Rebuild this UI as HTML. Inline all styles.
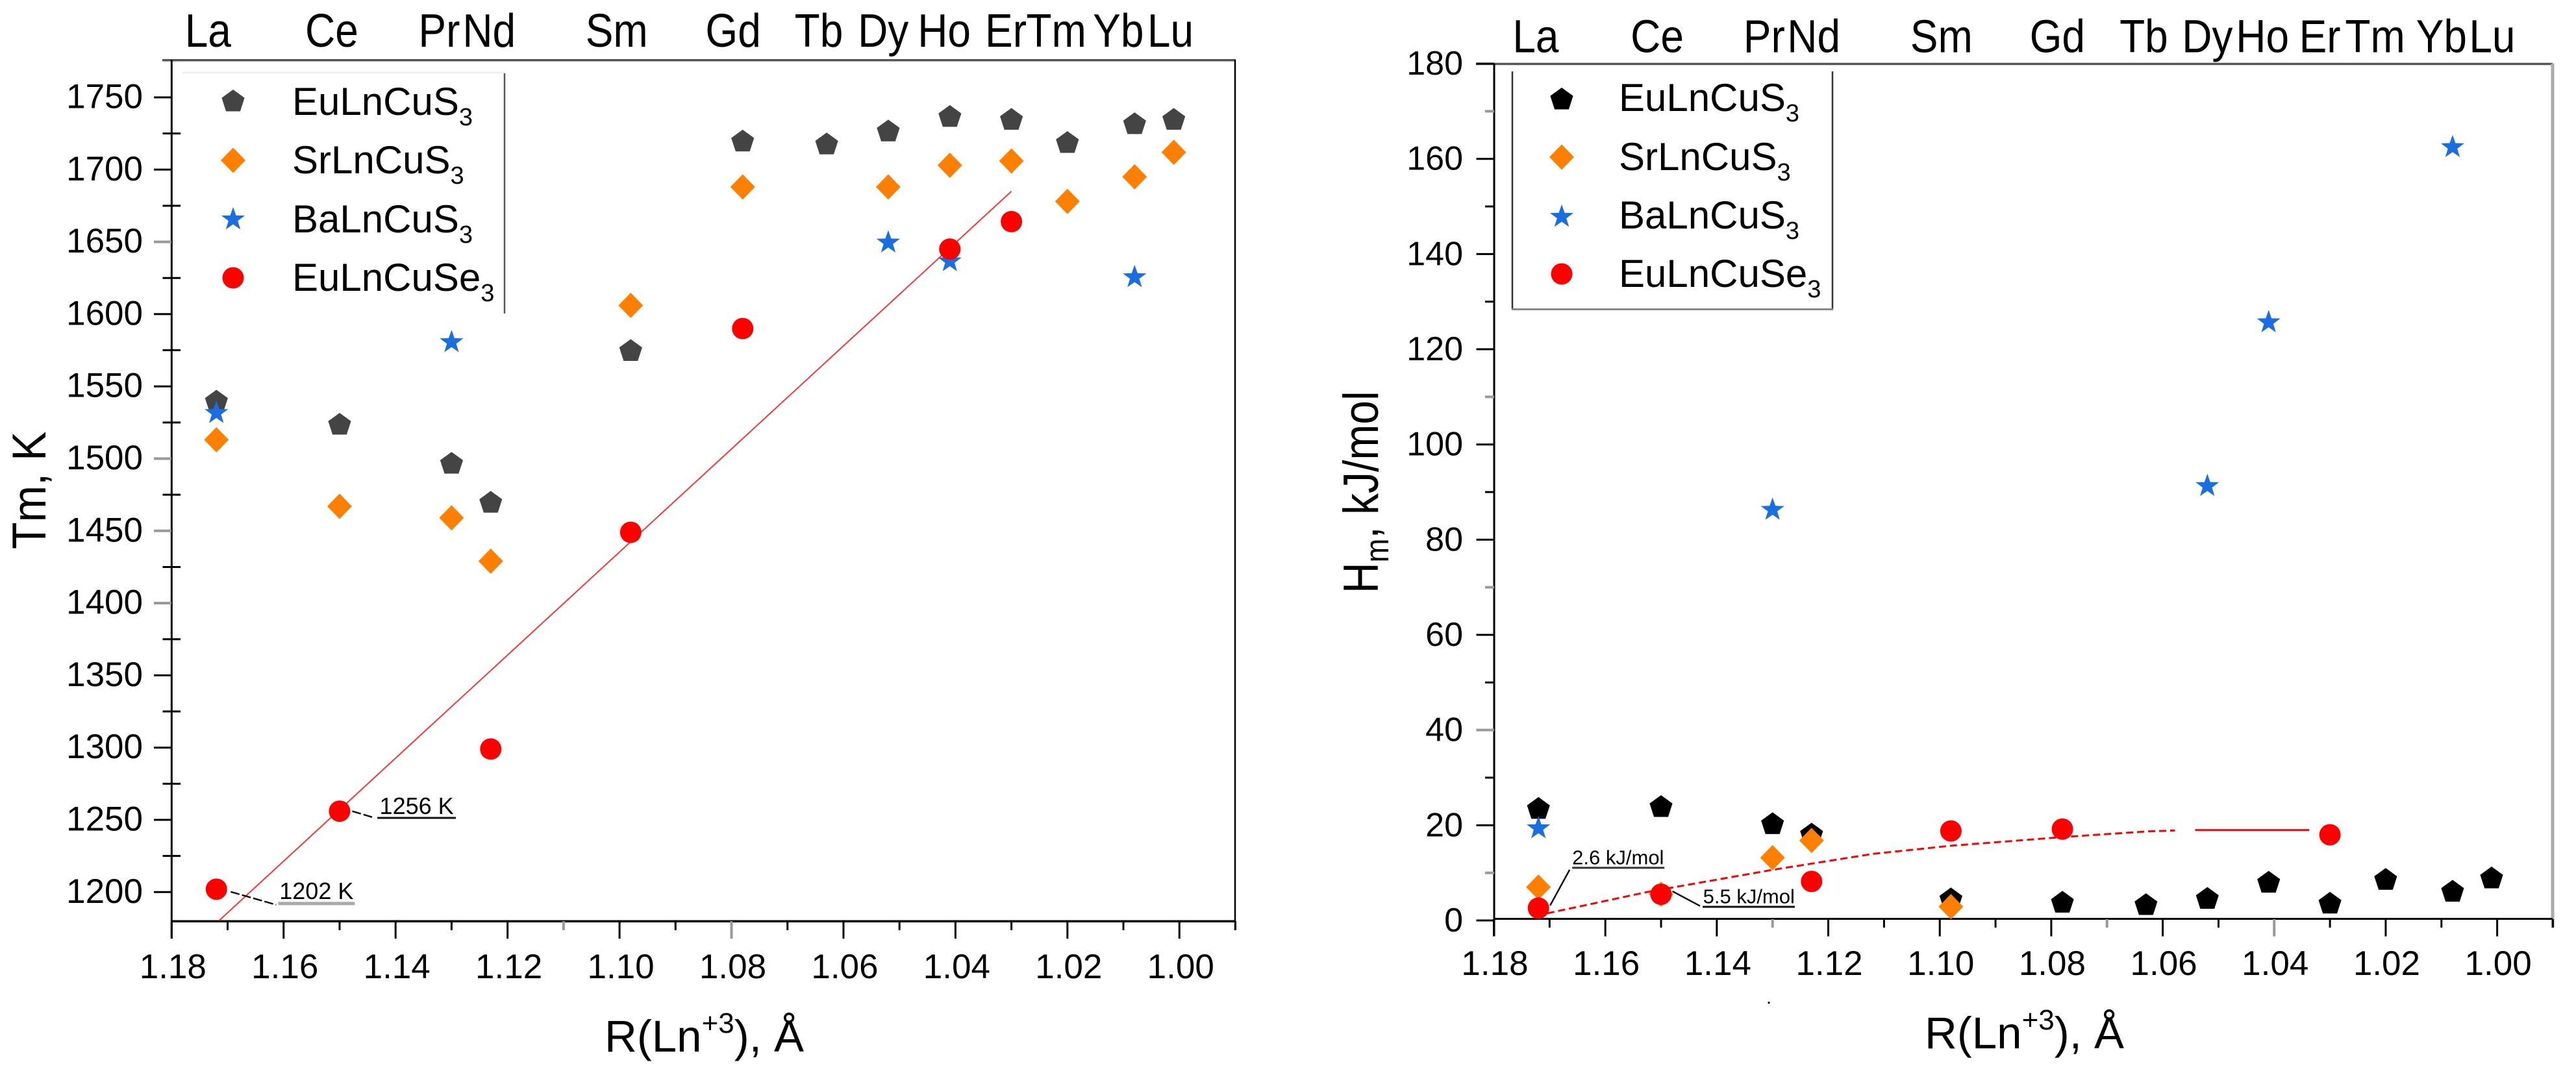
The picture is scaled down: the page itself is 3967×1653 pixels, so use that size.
<!DOCTYPE html>
<html lang="en">
<head>
<meta charset="utf-8">
<title>Melting temperature and enthalpy of LnCu chalcogenides</title>
<style>
html,body{margin:0;padding:0;background:#fff;}
svg{display:block;font-family:"Liberation Sans",sans-serif;}
</style>
</head>
<body>
<svg id="figure" xmlns="http://www.w3.org/2000/svg" width="3967" height="1653" viewBox="0 0 3967 1653">
<rect x="0" y="0" width="3967" height="1653" fill="#ffffff"/>
</svg>
<script>
// ---- shared categories ----
const lnNames = ['La','Ce','Pr','Nd','Sm','Gd','Tb','Dy','Ho','Er','Tm','Yb','Lu'];
const radii = [1.172,1.15,1.13,1.123,1.098,1.078,1.063,1.052,1.041,1.03,1.02,1.008,1.001];
const xTickValues = [1.18,1.16,1.14,1.12,1.10,1.08,1.06,1.04,1.02,1.00];
const xTickLabels = ['1.18','1.16','1.14','1.12','1.10','1.08','1.06','1.04','1.02','1.00'];
const xMinorValues = [1.17,1.15,1.13,1.11,1.09,1.07,1.05,1.03,1.01,0.99];
const legendBase = ['EuLnCuS','SrLnCuS','BaLnCuS','EuLnCuSe'];
const legendSub = ['3','3','3','3'];

// ---- left chart: Tm, K ----
const leftEu = [1540,1524,1497,1470,1575,1720,1718,1727,1737,1735,1719,1732,1735];
const leftSr = [1513,1467,1459,1429,1606,1688,null,1688,1703,1706,1678,1695,1712];
const leftBa = [1532,null,1581,null,null,null,null,1650,1637,null,null,1626,null];
const leftSe = [1202,1256,null,1299,1449,1590,null,null,1645,1664,null,null,null];
const leftFitR = [1.1716,1.03];
const leftFitT = [1180,1685];
const leftYTicks = [1200,1250,1300,1350,1400,1450,1500,1550,1600,1650,1700,1750];
const leftYMinor = [1225,1275,1325,1375,1425,1475,1525,1575,1625,1675,1725];
const leftLabelR = [1.1735,1.1514,1.1322,1.1233,1.1005,1.0797,1.0644,1.0529,1.042,1.031,1.022,1.0109,1.0016];
const leftFadedTicks = [1400,1450,1500,1650,1.11,1.08];

// ---- right chart: Hm, kJ/mol ----
const rightEu = [23.6,24,20.4,18.2,4.6,3.9,3.4,4.7,8.1,3.7,8.7,6.2,9];
const rightSr = [7,5.5,13.2,16.8,2.9,null,null,null,null,null,null,null,null];
const rightBa = [19.5,null,86.4,null,null,null,null,91.4,125.8,null,null,162.6,null];
const rightSe = [2.6,5.5,null,8.2,18.8,19.2,null,null,null,18,null,null,null];
const rightFitR = [1.1704,1.1524,1.1302,1.1119,1.098,1.0782,1.063,1.0578];
const rightFitH = [1.5,6.0,10.6,14.0,15.7,17.5,18.7,18.9];
const rightTailR = [1.0542,1.0337];
const rightTailH = [19.0,19.0];
const rightYTicks = [0,20,40,60,80,100,120,140,160,180];
const rightYMinor = [10,30,50,70,90,110,130,150,170];
const rightLabelR = [1.1725,1.1507,1.1315,1.1226,1.0997,1.0789,1.0634,1.052,1.0421,1.0318,1.0219,1.01,1.0009];
const rightFadedTicks = [10,40,70,110,170,1.13,1.07,1.04];

// ---- axis functions ----
function xLeft(r){ return 264.3 + (1.18 - r) * 8622; }
function yLeft(t){ return 1374.3 - (t - 1200) * 2.226; }
function xRight(r){ return 2300.5 + (1.18 - r) * 8584; }
function yRight(h){ return 1418 - h * 7.333; }

const svgNS = 'http://www.w3.org/2000/svg';
const root = document.getElementById('figure');

function make(tag, parent, name, attrs){
  const el = document.createElementNS(svgNS, tag);
  for (const k in attrs) el.setAttribute(k, attrs[k]);
  
  
  parent.appendChild(el);
  return el;
}
function line(parent, name, x1, y1, x2, y2, color, w, dash){
  const a = {x1:x1, y1:y1, x2:x2, y2:y2, stroke:color, 'stroke-width':w};
  if (dash) a['stroke-dasharray'] = dash;
  return make('line', parent, name, a);
}
function tick(parent, name, x1, y1, x2, y2, value, faded){
  const isFaded = faded.indexOf(value) >= 0;
  return line(parent, name, x1, y1, x2, y2, isFaded ? '#999' : '#000', isFaded ? 4 : 3);
}
function label(parent, name, str, x, y, size, anchor){
  const t = make('text', parent, name, {x:x, y:y, 'font-size':size, 'text-anchor':anchor || 'start', fill:'#000'});
  t.textContent = str;
  return t;
}
function marker(parent, name, type, cx, cy, color){
  if (type === 'circle') return make('circle', parent, name, {cx:cx, cy:cy, r:16.5, fill:color});
  let pts = [];
  if (type === 'pentagon') {
    for (let i = 0; i < 5; i++) {
      const a = -Math.PI / 2 + i * 2 * Math.PI / 5;
      pts.push((cx + 18.5 * Math.cos(a)).toFixed(1) + ',' + (cy + 1.5 + 18.5 * Math.sin(a)).toFixed(1));
    }
  } else if (type === 'diamond') {
    pts = [cx + ',' + (cy - 19.5), (cx + 19) + ',' + cy, cx + ',' + (cy + 19.5), (cx - 19) + ',' + cy];
  } else {
    for (let i = 0; i < 10; i++) {
      const a = -Math.PI / 2 + i * Math.PI / 5;
      const r = i % 2 ? 7.6 : 19;
      pts.push((cx + r * Math.cos(a)).toFixed(1) + ',' + (cy + 1 + r * Math.sin(a)).toFixed(1));
    }
  }
  return make('polygon', parent, name, {points:pts.join(' '), fill:color});
}
function subText(parent, name, base, sub, x, y, size, subSize, dy){
  const t = make('text', parent, name, {x:x, y:y, 'font-size':size, fill:'#000'});
  t.appendChild(document.createTextNode(base));
  const s = document.createElementNS(svgNS, 'tspan');
  s.setAttribute('font-size', subSize);
  s.setAttribute('dy', dy);
  s.textContent = sub;
  t.appendChild(s);
  return t;
}
function axisTitleX(parent, x, y){
  const t = make('text', parent, 'x-axis-title', {x:x, y:y, 'font-size':69, fill:'#000'});
  t.appendChild(document.createTextNode('R(Ln'));
  const s = document.createElementNS(svgNS, 'tspan');
  s.setAttribute('font-size', 44);
  s.setAttribute('dy', -29);
  s.textContent = '+3';
  t.appendChild(s);
  const r = document.createElementNS(svgNS, 'tspan');
  r.setAttribute('dy', 29);
  r.textContent = '), Å';
  t.appendChild(r);
}
function series(parent, name, type, color, values, xf, yf){
  const g = make('g', parent, name, {});
  values.forEach(function(v, i){
    if (v === null) return;
    marker(g, name + '-point-' + lnNames[i].toLowerCase(), type, xf(radii[i]), yf(v), color);
  });
}
function polyline(parent, name, rs, vs, xf, yf, w, dash, opacity){
  const pts = rs.map(function(r, i){ return xf(r).toFixed(1) + ',' + yf(vs[i]).toFixed(1); }).join(' ');
  const a = {points:pts, fill:'none', stroke:'#ff0000', 'stroke-width':w, 'stroke-linejoin':'round'};
  if (dash) a['stroke-dasharray'] = dash;
  if (opacity) a['stroke-opacity'] = opacity;
  return make('polyline', parent, name, a);
}
function legend(parent, markerX, textX, markerYs, baselines, colorFirst){
  const types = ['pentagon','diamond','star','circle'];
  const colors = [colorFirst,'#ff8000','#1a6ee0','#ff0000'];
  legendBase.forEach(function(b, i){
    marker(parent, 'legend-marker-' + b.toLowerCase(), types[i], markerX, markerYs[i], colors[i]);
    subText(parent, 'legend-label-' + b.toLowerCase(), b, legendSub[i], textX, baselines[i], 60, 38, 16);
  });
}
function annotate(parent, name, str, px, py, o){
  const g = make('g', parent, name, {});
  line(g, name + '-leader', px + o.lx1, py + o.ly1, px + o.lx2, py + o.ly2, '#111', 2.5, o.dash);
  label(g, name + '-text', str, px + o.tx, py + o.ty, o.size);
  line(g, name + '-underline', px + o.ux1, py + o.uy, px + o.ux2, py + o.uy, o.ucolor, o.uw);
}

// ---------------- left chart ----------------
const left = make('g', root, 'melting-temperature-chart', {});
const leftAxes = make('g', left, 'left-axes', {});
line(leftAxes, 'top-axis-line', 250, 92.7, 1903, 92.7, '#555', 3.5);
line(leftAxes, 'right-axis-line', 1902, 92, 1902, 1433, '#000', 2.5);
line(leftAxes, 'y-axis-line', 264.3, 92, 264.3, 1446, '#000', 3);
line(leftAxes, 'x-axis-line', 264, 1419.3, 1903, 1419.3, '#000', 3.5);
leftYTicks.forEach(function(v){
  tick(leftAxes, 'y-major-tick', 237, yLeft(v), 264, yLeft(v), v, leftFadedTicks);
  label(leftAxes, 'y-tick-label', String(v), 220, yLeft(v) + 16.5, 53, 'end');
});
leftYMinor.forEach(function(v){
  tick(leftAxes, 'y-minor-tick', 250.5, yLeft(v), 278, yLeft(v), v, leftFadedTicks);
});
xTickValues.forEach(function(v, i){
  tick(leftAxes, 'x-major-tick', xLeft(v), 1419, xLeft(v), 1446, v, leftFadedTicks);
  label(leftAxes, 'x-tick-label', xTickLabels[i], xLeft(v) + 2, 1507, 53, 'middle');
});
xMinorValues.forEach(function(v){
  tick(leftAxes, 'x-minor-tick', xLeft(v), 1419, xLeft(v), 1433, v, leftFadedTicks);
});
lnNames.forEach(function(n, i){
  const t = make('text', leftAxes, 'lanthanide-label-' + n.toLowerCase(), {'font-size':64, 'text-anchor':'middle', fill:'#000', transform:'translate(' + xLeft(leftLabelR[i]).toFixed(1) + ',72) scale(1,1.13)'});
  t.textContent = n;
});
const leftTitle = make('text', left, 'y-axis-title', {'font-size':68, fill:'#000', transform:'translate(70,846) rotate(-90) scale(1,1.08)'});
leftTitle.textContent = 'Tm, K';
axisTitleX(left, 931, 1620);

polyline(left, 'eulncuse3-fit-line', leftFitR, leftFitT, xLeft, yLeft, 2, null, 0.8);
series(left, 'eulncus3-series', 'pentagon', '#444444', leftEu, xLeft, yLeft);
series(left, 'srlncus3-series', 'diamond', '#ff8000', leftSr, xLeft, yLeft);
series(left, 'balncus3-series', 'star', '#1a6ee0', leftBa, xLeft, yLeft);
series(left, 'eulncuse3-series', 'circle', '#ff0000', leftSe, xLeft, yLeft);

annotate(left, 'annotation-la', leftSe[0] + ' K', xLeft(radii[0]), yLeft(leftSe[0]),
  {lx1:22, ly1:4, lx2:92, ly2:24, tx:97, ty:15, size:36, ux1:95, ux2:213, uy:22, ucolor:'#aaa', uw:5, dash:'14 4'});
annotate(left, 'annotation-ce', leftSe[1] + ' K', xLeft(radii[1]), yLeft(leftSe[1]),
  {lx1:19.5, ly1:0, lx2:54, ly2:10.4, tx:61.6, ty:4.4, size:36, ux1:58, ux2:179, uy:10.4, ucolor:'#111', uw:3, dash:'14 4'});

const leftLegend = make('g', left, 'left-legend', {});
line(leftLegend, 'legend-top-border', 281, 112, 778, 112, '#eeeeee', 3);
line(leftLegend, 'legend-right-border', 777, 113, 777, 483, '#555', 2.5);
legend(leftLegend, 359, 450, [155,247,337,428], [177,267,358,448], '#444444');

// ---------------- right chart ----------------
const right = make('g', root, 'melting-enthalpy-chart', {});
const rightAxes = make('g', right, 'right-axes', {});
line(rightAxes, 'top-axis-line', 2273, 98.5, 3931, 98.5, '#555', 3.5);
line(rightAxes, 'right-axis-line', 3931, 98, 3931, 1429, '#aaa', 5);
line(rightAxes, 'y-axis-line', 2301, 98, 2301, 1442, '#000', 3);
line(rightAxes, 'x-axis-line', 2301, 1415.5, 3931, 1415.5, '#000', 3);
rightYTicks.forEach(function(v){
  tick(rightAxes, 'y-major-tick', 2273.5, yRight(v), 2301, yRight(v), v, rightFadedTicks);
  label(rightAxes, 'y-tick-label', String(v), 2253, yRight(v) + 17, 52, 'end');
});
rightYMinor.forEach(function(v){
  tick(rightAxes, 'y-minor-tick', 2287, yRight(v), 2301, yRight(v), v, rightFadedTicks);
});
xTickValues.forEach(function(v, i){
  tick(rightAxes, 'x-major-tick', xRight(v), 1416, xRight(v), 1442.5, v, rightFadedTicks);
  label(rightAxes, 'x-tick-label', xTickLabels[i], xRight(v) + 1.5, 1502, 53, 'middle');
});
xMinorValues.forEach(function(v){
  tick(rightAxes, 'x-minor-tick', xRight(v), 1416, xRight(v), 1429, v, rightFadedTicks);
});
lnNames.forEach(function(n, i){
  const t = make('text', rightAxes, 'lanthanide-label-' + n.toLowerCase(), {'font-size':64, 'text-anchor':'middle', fill:'#000', transform:'translate(' + xRight(rightLabelR[i]).toFixed(1) + ',80.5) scale(1,1.12)'});
  t.textContent = n;
});
const rightTitle = make('text', right, 'y-axis-title', {'font-size':66, fill:'#000', transform:'translate(2122,914) rotate(-90) scale(1,1.15)'});
rightTitle.appendChild(document.createTextNode('H'));
const rightTitleSub = document.createElementNS(svgNS, 'tspan');
rightTitleSub.setAttribute('font-size', 44);
rightTitleSub.setAttribute('dy', 14);
rightTitleSub.textContent = 'm';
rightTitle.appendChild(rightTitleSub);
const rightTitleRest = document.createElementNS(svgNS, 'tspan');
rightTitleRest.setAttribute('dy', -14);
rightTitleRest.textContent = ', kJ/mol';
rightTitle.appendChild(rightTitleRest);
axisTitleX(right, 2964, 1615);
make('circle', right, 'stray-dot', {cx:2724, cy:1544.7, r:1.6, fill:'#000'});

polyline(right, 'eulncuse3-fit-curve', rightFitR, rightFitH, xRight, yRight, 3, '11 6');
polyline(right, 'eulncuse3-fit-curve-tail', rightTailR, rightTailH, xRight, yRight, 3);
series(right, 'eulncus3-series', 'pentagon', '#000000', rightEu, xRight, yRight);
series(right, 'srlncus3-series', 'diamond', '#ff8000', rightSr, xRight, yRight);
series(right, 'balncus3-series', 'star', '#1a6ee0', rightBa, xRight, yRight);
series(right, 'eulncuse3-series', 'circle', '#ff0000', rightSe, xRight, yRight);

annotate(right, 'annotation-la', rightSe[0] + ' kJ/mol', xRight(radii[0]), yRight(rightSe[0]),
  {lx1:18, ly1:-4, lx2:48, ly2:-59, tx:52, ty:-67.3, size:31, ux1:52, ux2:194, uy:-62, ucolor:'#333', uw:3});
annotate(right, 'annotation-ce', rightSe[1] + ' kJ/mol', xRight(radii[1]), yRight(rightSe[1]),
  {lx1:17.5, ly1:-4.7, lx2:60, ly2:18, tx:64.6, ty:14, size:31, ux1:64, ux2:206, uy:19.3, ucolor:'#111', uw:3});

const rightLegend = make('g', right, 'right-legend', {});
line(rightLegend, 'legend-left-border', 2329, 110, 2329, 477, '#333', 2.5);
line(rightLegend, 'legend-right-border', 2822, 110, 2822, 477, '#333', 2.5);
line(rightLegend, 'legend-bottom-border', 2328, 476.5, 2823, 476.5, '#888', 3);
legend(rightLegend, 2405, 2493, [152,242,333,422], [171,262,352,442], '#000000');
</script>
</body>
</html>
